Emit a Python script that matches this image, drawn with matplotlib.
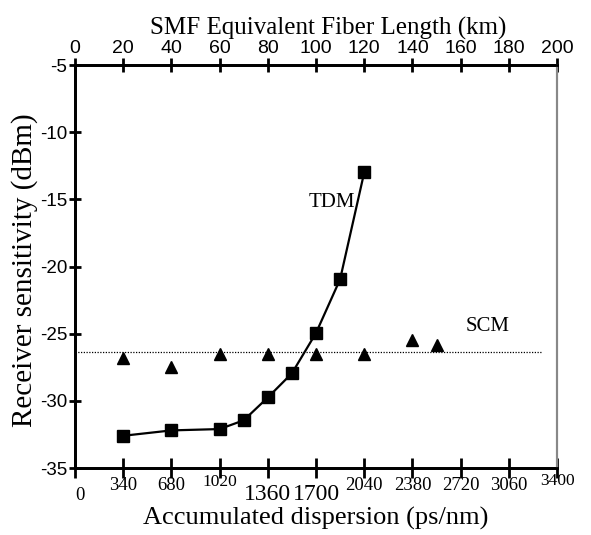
import numpy as np
import matplotlib.pyplot as plt

# TDM: accumulated dispersion (ps/nm) vs receiver sensitivity (dBm)
tdm_disp = [340, 680, 1020, 1190, 1360, 1530, 1700, 1870, 2040]
tdm_sens = [-32.6, -32.2, -32.1, -31.45, -29.75, -27.95, -24.95, -20.95, -13.0]

# SCM points
scm_disp = [340, 680, 1020, 1360, 1700, 2040, 2380, 2550]
scm_sens = [-26.8, -27.45, -26.5, -26.5, -26.5, -26.5, -25.45, -25.85]
scm_level = -26.35

bottom_ticks = [0, 340, 680, 1020, 1360, 1700, 2040, 2380, 2720, 3060, 3400]
top_ticks = [0, 20, 40, 60, 80, 100, 120, 140, 160, 180, 200]
y_ticks = [-35, -30, -25, -20, -15, -10, -5]

serif = "Liberation Serif"
sans = "Liberation Sans"

fig = plt.figure(figsize=(5.91, 5.35), dpi=100)
ax = fig.add_axes([0.1269, 0.1252, 0.8156, 0.7533])

ax.plot(tdm_disp, tdm_sens, color="black", lw=1.6, marker="s", ms=8.5, zorder=3)
ax.plot(scm_disp, scm_sens, ls="none", marker="^", color="black", ms=9, zorder=3)
ax.plot([0, 3290], [scm_level, scm_level], color="black", lw=0.9, ls=(0, (1, 1.2)))

ax.text(1810, -15.2, "TDM", family=serif, fontsize=15, ha="center", va="center")
ax.text(2912, -24.5, "SCM", family=serif, fontsize=15, ha="center", va="center")

ax.set_xlim(0, 3400)
ax.set_ylim(-35, -5)

for side in ["left", "top", "bottom"]:
    ax.spines[side].set_linewidth(2)
ax.spines["right"].set_color("#888888")
ax.spines["right"].set_linewidth(1.5)

ax.set_yticks(y_ticks)
ax.set_yticklabels([str(v) for v in y_ticks], family=sans, fontsize=13.5)
ax.tick_params(axis="y", direction="inout", length=9, width=2, pad=1)

ax.set_xticks(bottom_ticks)
ax.set_xticklabels([])
ax.tick_params(axis="x", direction="inout", length=14, width=2)
# bottom tick labels, drawn with their uneven offsets as in the original
label_dy = {0: 27, 1020: 14, 1360: 26, 1700: 26, 3400: 13}
label_fs = {1020: 12.5, 1360: 17, 1700: 17, 3400: 12.5}
for v in bottom_ticks:
    ax.annotate(str(v), xy=(v, -35), xycoords="data",
                xytext=(5 if v == 0 else 0, -label_dy.get(v, 17)),
                textcoords="offset pixels", ha="center", va="center",
                family=serif, fontsize=label_fs.get(v, 13.5))
ax.text(0.5, -0.125, "Accumulated dispersion (ps/nm)", transform=ax.transAxes,
        family=serif, fontsize=19, ha="center", va="center")
ax.text(-0.105, 0.49, "Receiver sensitivity (dBm)", transform=ax.transAxes,
        family=serif, fontsize=21, rotation=90, ha="center", va="center")

top = ax.twiny()
top.set_xlim(0, 200)
top.set_xticks(top_ticks)
top.set_xticklabels([str(v) for v in top_ticks], family=sans, fontsize=14)
top.tick_params(axis="x", direction="inout", length=10, width=2, pad=1)
top.set_xlabel("SMF Equivalent Fiber Length (km)", family=serif, fontsize=18, labelpad=4)
top.xaxis.label.set_x(0.525)
for side in ["left", "top", "bottom"]:
    top.spines[side].set_linewidth(2)
top.spines["right"].set_color("#888888")
top.spines["right"].set_linewidth(1.5)

plt.savefig("out.png", dpi=100)
